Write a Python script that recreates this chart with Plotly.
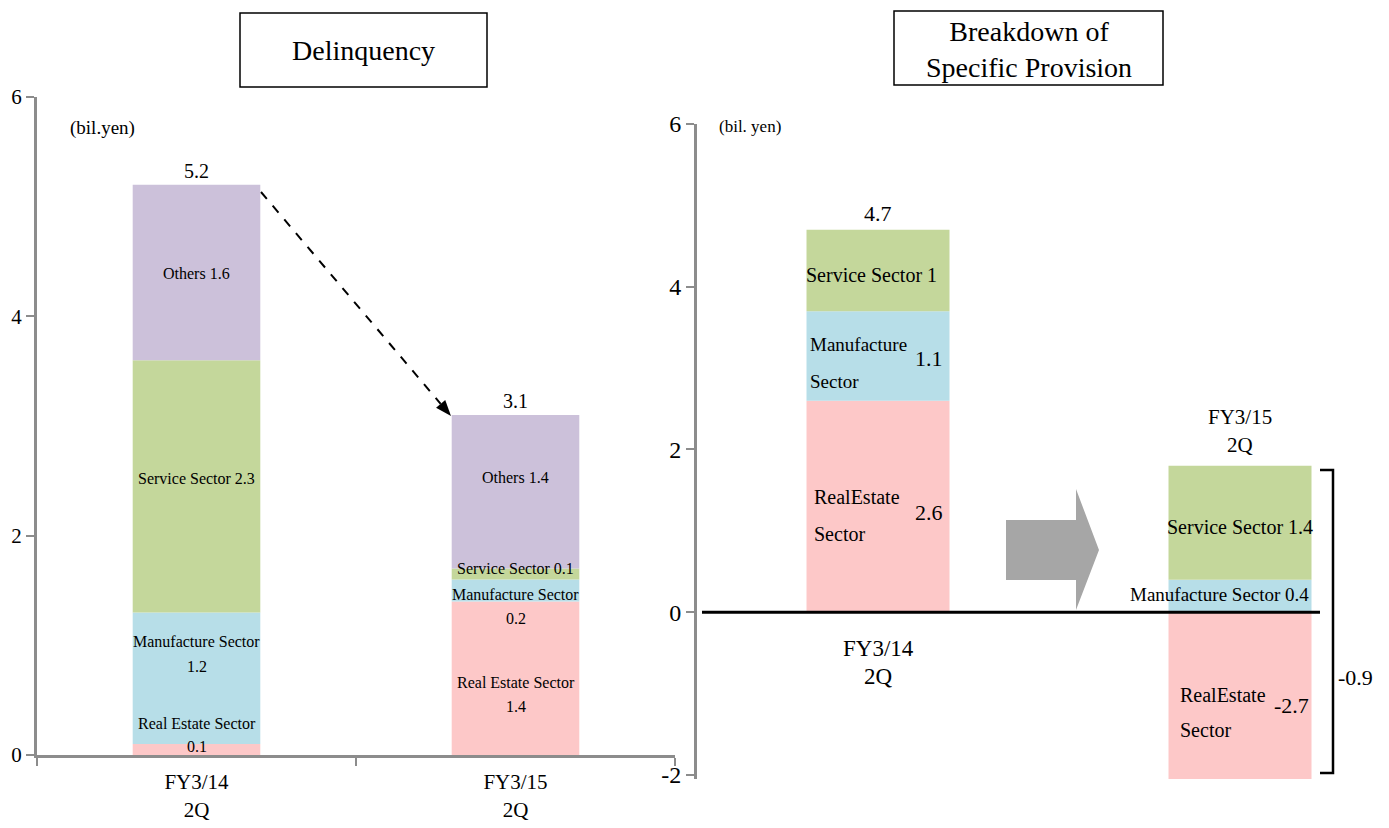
import plotly.graph_objects as go

W, H = 1389, 828
FONT = "Liberation Serif"

# Delinquency by sector (bil. yen)
periods = ["FY3/14", "FY3/15"]
period_labels = ["FY3/14<br>2Q", "FY3/15<br>2Q"]
del_real_estate = [0.1, 1.4]
del_manufacture = [1.2, 0.2]
del_service = [2.3, 0.1]
del_others = [1.6, 1.4]
del_totals = [5.2, 3.1]

# Breakdown of specific provision (bil. yen)
prov_real_estate = [2.6, -2.7]
prov_manufacture = [1.1, 0.4]
prov_service = [1.0, 1.4]
prov_totals = [4.7]
prov_change = -0.9

left_ticks = [0, 2, 4, 6]
right_ticks = [-2, 0, 2, 4, 6]
right_tick_text = ["-2", "0", "2", "4", "6"]

C_RE = "#fdc8c8"
C_MF = "#b7dee8"
C_SV = "#c4d79b"
C_OT = "#ccc1da"
AXIS_GREY = "#8c8c8c"

# pixel-frame helpers (figure is laid out on a fixed 1389x828 canvas)
L_X0, L_X1, L_Y0, L_Y1 = 37, 675, 755, 97      # left plot area
R_X0, R_Y0, R_Y1 = 697, 779, 124               # right plot area
R_C0, R_STEP = 878, 362                        # right category centres / spacing
L_RANGE = (0, 6)
R_RANGE = (-2.05, 6)


def px(x):
    return x / W


def py(y):
    return 1 - y / H


def lx(x):
    return (x - (L_X0 + (L_X1 - L_X0) / 4)) / ((L_X1 - L_X0) / 2)


def ly(y):
    return (L_Y0 - y) / (L_Y0 - L_Y1) * (L_RANGE[1] - L_RANGE[0])


def rx(x):
    return (x - R_C0) / R_STEP


def ry(y):
    return R_RANGE[0] + (R_Y0 - y) / (R_Y0 - R_Y1) * (R_RANGE[1] - R_RANGE[0])


fig = go.Figure()

# ---- left: delinquency stacks ----
for vals, col in [(del_real_estate, C_RE), (del_manufacture, C_MF),
                  (del_service, C_SV), (del_others, C_OT)]:
    fig.add_trace(go.Bar(x=periods, y=vals, width=0.4, marker=dict(color=col, line=dict(width=0)),
                         xaxis="x", yaxis="y", showlegend=False, hoverinfo="skip"))

# ---- right: specific provision stacks ----
for vals, col in [(prov_real_estate, C_RE), (prov_manufacture, C_MF), (prov_service, C_SV)]:
    fig.add_trace(go.Bar(x=[0, 1], y=vals, width=0.395, marker=dict(color=col, line=dict(width=0)),
                         xaxis="x2", yaxis="y2", showlegend=False, hoverinfo="skip"))

ann = []


def lab(text, x, y, size, xref, yref, xanchor="center", yanchor="middle", yshift=0):
    ann.append(dict(text=text, x=x, y=y, xref=xref, yref=yref, showarrow=False,
                    xanchor=xanchor, yanchor=yanchor, yshift=yshift,
                    font=dict(family=FONT, size=size, color="black")))


# titles
lab("Delinquency", px(363.5), py(50), 28, "paper", "paper")
lab("Breakdown of<br>Specific Provision", px(1029), py(49), 28, "paper", "paper")

# left labels
lab("(bil.yen)", lx(102), ly(128), 19, "x", "y")
for i, t in enumerate(del_totals):
    lab(f"{t}", i, t, 20, "x", "y", yanchor="bottom", yshift=1)
lab(f"Others {del_others[0]}", 0, ly(273), 16, "x", "y")
lab(f"Service Sector {del_service[0]}", 0, ly(478), 16, "x", "y")
lab("Manufacture Sector", 0, ly(641), 16, "x", "y")
lab(f"{del_manufacture[0]}", 0, ly(666), 16, "x", "y")
lab("Real Estate Sector", 0, ly(723), 16, "x", "y")
lab(f"{del_real_estate[0]}", 0, ly(746), 16, "x", "y")
lab(f"Others {del_others[1]}", 1, ly(477), 16, "x", "y")
lab(f"Service Sector {del_service[1]}", 1, ly(568), 16, "x", "y")
lab("Manufacture Sector", 1, ly(594), 16, "x", "y")
lab(f"{del_manufacture[1]}", 1, ly(618), 16, "x", "y")
lab("Real Estate Sector", 1, ly(682), 16, "x", "y")
lab(f"{del_real_estate[1]}", 1, ly(706), 16, "x", "y")

# right labels
lab("(bil. yen)", rx(750), ry(126), 17, "x2", "y2")
lab(f"{prov_totals[0]}", 0, sum(v[0] for v in [prov_real_estate, prov_manufacture, prov_service]),
    22, "x2", "y2", yanchor="bottom", yshift=2)
lab(f"Service Sector {prov_service[0]:g}", rx(871), ry(275), 20, "x2", "y2")
lab("Manufacture", rx(808), ry(344), 19, "x2", "y2", xanchor="left")
lab("Sector", rx(808), ry(381), 19, "x2", "y2", xanchor="left")
lab(f"{prov_manufacture[0]}", rx(929), ry(358), 22, "x2", "y2")
lab("RealEstate", rx(812), ry(497), 20, "x2", "y2", xanchor="left")
lab("Sector", rx(812), ry(534), 20, "x2", "y2", xanchor="left")
lab(f"{prov_real_estate[0]}", rx(929), ry(512), 22, "x2", "y2")
lab("FY3/14", 0, ry(648), 23, "x2", "y2")
lab("2Q", 0, ry(676), 23, "x2", "y2")
lab("FY3/15", 1, ry(417), 21, "x2", "y2")
lab("2Q", 1, ry(445), 21, "x2", "y2")
lab(f"Service Sector {prov_service[1]}", 1, ry(527), 20, "x2", "y2")
lab(f"Manufacture Sector {prov_manufacture[1]}", rx(1219), ry(594), 19, "x2", "y2")
lab("RealEstate", rx(1178), ry(695), 20, "x2", "y2", xanchor="left")
lab("Sector", rx(1178), ry(730), 20, "x2", "y2", xanchor="left")
lab(f"{prov_real_estate[1]}", rx(1291), ry(705), 22, "x2", "y2")
lab(f"{prov_change}", px(1355), py(677), 22, "paper", "paper")

shapes = []
# title boxes
shapes.append(dict(type="rect", xref="paper", yref="paper", x0=px(240), x1=px(487), y0=py(13), y1=py(87),
                   line=dict(color="black", width=1.5), fillcolor="rgba(0,0,0,0)"))
shapes.append(dict(type="rect", xref="paper", yref="paper", x0=px(894), x1=px(1163), y0=py(11), y1=py(85),
                   line=dict(color="black", width=1.5), fillcolor="rgba(0,0,0,0)"))

# dashed arrow between delinquency totals
sx, sy, tx, ty = 261, 192, 451, 416
dx, dy = tx - sx, ty - sy
ln = (dx ** 2 + dy ** 2) ** 0.5
ux, uy = dx / ln, dy / ln
hl, hw = 16, 6
bx, by = tx - hl * ux, ty - hl * uy
shapes.append(dict(type="line", xref="paper", yref="paper", x0=px(sx), y0=py(sy), x1=px(bx), y1=py(by),
                   line=dict(color="black", width=2, dash="dash")))
p1 = (bx - hw * uy, by + hw * ux)
p2 = (bx + hw * uy, by - hw * ux)
shapes.append(dict(type="path", xref="paper", yref="paper",
                   path=f"M {px(tx)},{py(ty)} L {px(p1[0])},{py(p1[1])} L {px(p2[0])},{py(p2[1])} Z",
                   fillcolor="black", line=dict(width=0)))

# zero line on the provision panel
shapes.append(dict(type="line", xref="x2", yref="y2", x0=rx(702), x1=rx(1320), y0=0, y1=0,
                   line=dict(color="black", width=3)))

# grey block arrow
arrow_pts = [(1006, 520), (1076, 520), (1076, 489), (1099, 550), (1076, 610), (1076, 580), (1006, 580)]
path = "M " + " L ".join(f"{px(x)},{py(y)}" for x, y in arrow_pts) + " Z"
shapes.append(dict(type="path", xref="paper", yref="paper", path=path,
                   fillcolor="#a6a6a6", line=dict(width=0)))

# bracket for net change
br = [(1320, 470), (1333, 470), (1333, 773), (1320, 773)]
shapes.append(dict(type="path", xref="paper", yref="paper",
                   path="M " + " L ".join(f"{px(x)},{py(y)}" for x, y in br),
                   line=dict(color="black", width=2.5)))

fig.update_layout(
    width=W, height=H,
    margin=dict(l=0, r=0, t=0, b=0, autoexpand=False),
    paper_bgcolor="white", plot_bgcolor="white",
    barmode="relative",
    showlegend=False,
    annotations=ann,
    shapes=shapes,
    xaxis=dict(domain=[px(L_X0), px(L_X1)], type="category", range=[-0.5, 1.5],
               tickvals=periods, ticktext=period_labels, tickson="boundaries",
               showline=True, linecolor=AXIS_GREY, linewidth=3,
               ticks="outside", ticklen=8, tickwidth=2, tickcolor=AXIS_GREY,
               tickfont=dict(family=FONT, size=21, color="black"), ticklabelstandoff=6,
               showgrid=False, zeroline=False, anchor="y", fixedrange=True, automargin=False),
    yaxis=dict(domain=[py(L_Y0), py(L_Y1)], range=list(L_RANGE), tickvals=left_ticks,
               showline=True, linecolor=AXIS_GREY, linewidth=3,
               ticks="outside", ticklen=8, tickwidth=2, tickcolor=AXIS_GREY,
               tickfont=dict(family=FONT, size=21, color="black"),
               showgrid=False, zeroline=False, anchor="x", automargin=False),
    xaxis2=dict(domain=[px(R_X0), 1], range=[rx(R_X0), rx(W)], visible=False, anchor="y2",
                automargin=False),
    yaxis2=dict(domain=[py(R_Y0), py(R_Y1)], range=list(R_RANGE),
                tickvals=right_ticks, ticktext=right_tick_text,
                showline=True, linecolor=AXIS_GREY, linewidth=3,
                ticks="outside", ticklen=8, tickwidth=2, tickcolor=AXIS_GREY,
                tickfont=dict(family=FONT, size=24, color="black"),
                showgrid=False, zeroline=False, anchor="x2", automargin=False),
)

fig.write_html("out.html")
